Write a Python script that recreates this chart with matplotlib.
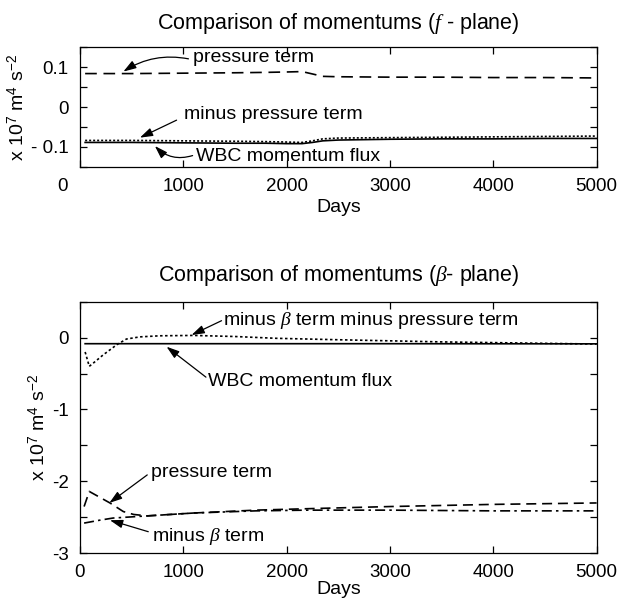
import matplotlib
matplotlib.use("Agg")
import matplotlib.pyplot as plt
import matplotlib.transforms as mtransforms

# f-plane curves (x 10^7 m^4 s^-2)
days_f = [50, 500, 1000, 1500, 1800, 2000, 2150, 2250, 2350, 2500, 3000, 3500, 4000, 4500, 5000]
pressure_f = [0.084, 0.084, 0.085, 0.086, 0.087, 0.088, 0.089, 0.083, 0.077, 0.076,
              0.075, 0.075, 0.074, 0.074, 0.073]
minus_pressure_f = [-0.084, -0.084, -0.085, -0.086, -0.087, -0.088, -0.089, -0.085, -0.080,
                    -0.078, -0.077, -0.076, -0.075, -0.074, -0.073]
wbc_f = [-0.089, -0.089, -0.090, -0.091, -0.091, -0.092, -0.092, -0.089, -0.085, -0.083,
         -0.081, -0.080, -0.080, -0.079, -0.079]

# beta-plane curves
days_res_b = [50, 90, 150, 225, 300, 355, 450, 580, 775, 1100, 1500, 1900, 2500, 3000,
              3500, 4000, 4500, 5000]
residual_b = [-0.20, -0.40, -0.33, -0.24, -0.16, -0.10, -0.02, 0.01, 0.025, 0.03, 0.015,
              -0.01, -0.03, -0.045, -0.06, -0.07, -0.08, -0.09]
days_wbc_b = [50, 1000, 2000, 3000, 4000, 5000]
wbc_b = [-0.085, -0.085, -0.085, -0.085, -0.086, -0.087]
days_p_b = [40, 90, 190, 290, 420, 520, 650, 1100, 1700, 2200, 3000, 4000, 5000]
pressure_b = [-2.35, -2.14, -2.22, -2.30, -2.42, -2.46, -2.48, -2.44, -2.40, -2.38,
              -2.35, -2.32, -2.30]
days_beta_b = [40, 190, 320, 650, 1100, 1700, 2200, 3000, 4000, 5000]
minus_beta_b = [-2.58, -2.54, -2.51, -2.48, -2.44, -2.41, -2.40, -2.40, -2.41, -2.41]

x_ticks = [0, 1000, 2000, 3000, 4000, 5000]
f_yticks = [-0.15, -0.1, -0.05, 0, 0.05, 0.1, 0.15]
f_ylabels = ["", "- 0.1", "", "0", "", "0.1", ""]
b_yticks = [-3, -2.5, -2, -1.5, -1, -0.5, 0, 0.5]
b_ylabels = ["-3", "", "-2", "", "-1", "", "0", ""]

plt.rcParams["font.family"] = ["Liberation Sans", "DejaVu Sans"]
plt.rcParams["font.size"] = 14
plt.rcParams["mathtext.fontset"] = "custom"
plt.rcParams["mathtext.rm"] = "Liberation Sans"
plt.rcParams["mathtext.it"] = "Liberation Serif:italic"

ylab = r"x 10$^{7}$ m$^{4}$ s$^{-2}$"
arrow = dict(arrowstyle="-|>,head_length=0.55,head_width=0.18", color="black",
             lw=0.9, shrinkA=0, shrinkB=0)
note_fs = 14


def style(ax, yticks, ylabels, ylim, xpad):
    ax.set_xlim(0, 5000)
    ax.set_ylim(*ylim)
    ax.set_xticks(x_ticks)
    ax.set_yticks(yticks)
    ax.set_yticklabels(ylabels)
    ax.tick_params(direction="in", length=5, width=0.9, top=True, right=True,
                   labelsize=13.5, pad=8)
    for s in ax.spines.values():
        s.set_linewidth(0.9)
    ax.set_xlabel("Days", fontsize=14, labelpad=xpad)
    ax.set_ylabel(ylab, fontsize=14, labelpad=2)


fig = plt.figure(figsize=(6.18, 6.01), dpi=100)

# top panel: f-plane
ax1 = fig.add_axes([0.1294, 0.7226, 0.836, 0.1987])
ax1.plot(days_f, pressure_f, color="black", lw=1.2, ls=(0, (7, 4)))
ax1.plot(days_f, minus_pressure_f, color="black", lw=1.2, ls=(0, (1.2, 1.2)))
ax1.plot(days_f, wbc_f, color="black", lw=1.2, ls="-")
style(ax1, f_yticks, f_ylabels, (-0.15, 0.15), 3)
ax1.set_title(r"Comparison of momentums ($f$ - plane)", fontsize=15.5, pad=13)
# the "0" day label sits far to the left in the original
lab0 = ax1.get_xticklabels()[0]
lab0.set_transform(lab0.get_transform() + mtransforms.ScaledTranslation(-0.17, 0, fig.dpi_scale_trans))

ax1.text(1096, 0.112, "pressure term", va="baseline", ha="left", fontsize=note_fs)
ax1.annotate("", xy=(420, 0.089), xytext=(1050, 0.121),
             arrowprops=dict(arrow, connectionstyle="arc3,rad=0.2"))
ax1.text(1006, -0.031, "minus pressure term", va="baseline", ha="left", fontsize=note_fs)
ax1.annotate("", xy=(580, -0.077), xytext=(935, -0.033), arrowprops=arrow)
ax1.text(1125, -0.136, "WBC momentum flux", va="baseline", ha="left", fontsize=note_fs)
ax1.annotate("", xy=(725, -0.098), xytext=(1090, -0.122),
             arrowprops=dict(arrow, connectionstyle="arc3,rad=-0.3"))

# bottom panel: beta-plane
ax2 = fig.add_axes([0.1294, 0.0794, 0.836, 0.4187])
ax2.plot(days_res_b, residual_b, color="black", lw=1.2, ls=(0, (1.5, 1.5)))
ax2.plot(days_wbc_b, wbc_b, color="black", lw=1.2, ls="-")
ax2.plot(days_p_b, pressure_b, color="black", lw=1.2, ls=(0, (6, 3.5)))
ax2.plot(days_beta_b, minus_beta_b, color="black", lw=1.2, ls=(0, (6, 2.5, 1.5, 2.5)))
style(ax2, b_yticks, b_ylabels, (-3, 0.5), 0)
ax2.set_title(r"Comparison of momentums ($\beta$- plane)", fontsize=15.5, pad=15)

ax2.text(1386, 0.175, r"minus $\beta$ term minus pressure term", va="baseline", ha="left",
         fontsize=note_fs)
ax2.annotate("", xy=(1080, 0.036), xytext=(1370, 0.235), arrowprops=arrow)
ax2.text(1241, -0.68, "WBC momentum flux", va="baseline", ha="left", fontsize=note_fs)
ax2.annotate("", xy=(838, -0.127), xytext=(1219, -0.55), arrowprops=arrow)
ax2.text(683, -1.935, "pressure term", va="baseline", ha="left", fontsize=note_fs)
ax2.annotate("", xy=(284, -2.30), xytext=(651, -1.91), arrowprops=arrow)
ax2.text(693, -2.83, r"minus $\beta$ term", va="baseline", ha="left", fontsize=note_fs)
ax2.annotate("", xy=(290, -2.54), xytext=(661, -2.70), arrowprops=arrow)

fig.savefig("out.png", dpi=100)
